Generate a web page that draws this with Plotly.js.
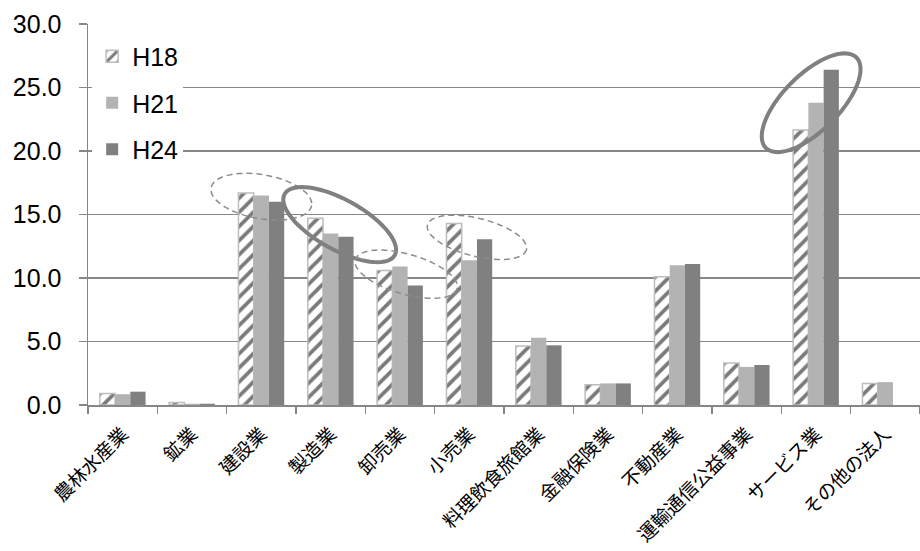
<!DOCTYPE html>
<html>
<head>
<meta charset="utf-8">
<script src="https://cdn.plot.ly/plotly-3.0.1.min.js"></script>
<style>html,body{margin:0;padding:0;background:#fff;}#chart{width:920px;height:551px;}</style>
</head>
<body>
<div id="chart"></div>
<script>
// ---- data ----
var categories = ["農林水産業","鉱業","建設業","製造業","卸売業","小売業","料理飲食旅館業","金融保険業","不動産業","運輸通信公益事業","サービス業","その他の法人"];
var seriesNames = ["H18","H21","H24"];
var h18 = [0.9, 0.2, 16.7, 14.7, 10.6, 14.3, 4.65, 1.6, 10.1, 3.3, 21.65, 1.7];
var h21 = [0.85, 0.1, 16.5, 13.5, 10.9, 11.4, 5.3, 1.7, 11.0, 3.0, 23.8, 1.8];
var h24 = [1.05, 0.1, 16.0, 13.25, 9.4, 13.05, 4.7, 1.7, 11.1, 3.15, 26.4, null];
var yTicks = [0, 5, 10, 15, 20, 25, 30];

// highlight ellipses: centre (category index, value), semi-axes in px, rotation deg
var highlights = [
  {ci: 2.0,  cv: 16.4, a: 51, b: 22, rot: 10,  dash: "dash",  width: 1.5},
  {ci: 3.13, cv: 14.2, a: 63, b: 25, rot: 29,  dash: "solid", width: 4},
  {ci: 4.09, cv: 10.3, a: 53, b: 20, rot: 16,  dash: "dash",  width: 1.5},
  {ci: 5.11, cv: 13.2, a: 51, b: 19, rot: 14,  dash: "dash",  width: 1.5},
  {ci: 9.93, cv: 23.8, a: 64, b: 28, rot: -45, dash: "solid", width: 4}
];

var M = {l: 88, r: 0, t: 24, b: 146};
var W = 920, H = 551;
var PW = W - M.l - M.r, PH = H - M.t - M.b;
var YMAX = 30;

function ellipsePath(h) {
  var cx = (h.ci + 0.5) / categories.length;
  var cy = h.cv / YMAX;
  var th = h.rot * Math.PI / 180;
  var pts = [];
  var n = 72;
  for (var i = 0; i < n; i++) {
    var t = 2 * Math.PI * i / n;
    var dx = h.a * Math.cos(t) * Math.cos(th) - h.b * Math.sin(t) * Math.sin(th);
    var dy = h.a * Math.cos(t) * Math.sin(th) + h.b * Math.sin(t) * Math.cos(th);
    pts.push((cx + dx / PW).toFixed(5) + "," + (cy - dy / PH).toFixed(5));
  }
  return "M" + pts.join("L") + "Z";
}

var shapes = highlights.map(function (h) {
  return {type: "path", xref: "paper", yref: "paper", path: ellipsePath(h),
    line: {color: h.dash === "dash" ? "#8c8c8c" : "#808080", width: h.width, dash: h.dash === "dash" ? "6px,4px" : "solid"},
    fillcolor: "rgba(0,0,0,0)", layer: "above"};
});

var traces = [
  {type: "bar", name: seriesNames[0], x: categories, y: h18, legendgroup: "a",
   marker: {color: "#ffffff", line: {color: "#bdbdbd", width: 1.5},
            pattern: {shape: "/", fgcolor: "#7a7a7a", bgcolor: "#ffffff", size: 10, solidity: 0.38}}},
  {type: "bar", name: seriesNames[1], x: categories, y: h21, legendgroup: "b",
   marker: {color: "#b3b3b3", line: {width: 0}}},
  {type: "bar", name: seriesNames[2], x: categories, y: h24, legendgroup: "c",
   marker: {color: "#808080", line: {width: 0}}}
];

var layout = {
  width: W, height: H,
  margin: M,
  paper_bgcolor: "#ffffff", plot_bgcolor: "#ffffff",
  font: {family: "Liberation Sans, Arial, sans-serif", color: "#000"},
  barmode: "group", bargap: 0.34, bargroupgap: 0,
  showlegend: true,
  legend: {x: 0.005, y: 0.975, xanchor: "left", yanchor: "top", bgcolor: "#ffffff",
           font: {size: 25, family: "Liberation Sans, Arial, sans-serif"},
           traceorder: "grouped", tracegroupgap: 11, itemwidth: 30},
  xaxis: {type: "category", range: [-0.5, categories.length - 0.5],
          tickangle: -45, tickson: "boundaries", ticks: "outside", ticklen: 7,
          tickcolor: "#878787", tickwidth: 1.5, ticklabelstandoff: 9,
          showline: true, linecolor: "#878787", linewidth: 1.5,
          tickfont: {family: "Noto Sans CJK JP", size: 19, color: "#000"},
          showgrid: false, fixedrange: true},
  yaxis: {range: [0, YMAX], tickvals: yTicks, tickformat: ".1f",
          ticks: "outside", ticklen: 8, tickcolor: "#878787", tickwidth: 1.5,
          ticklabelstandoff: 12,
          showline: true, linecolor: "#878787", linewidth: 1.5,
          showgrid: true, gridcolor: "#878787", gridwidth: 1.5,
          zeroline: false,
          tickfont: {size: 25, color: "#000"}},
  shapes: shapes
};

Plotly.newPlot("chart", traces, layout, {displayModeBar: false, staticPlot: true});
</script>
</body>
</html>
